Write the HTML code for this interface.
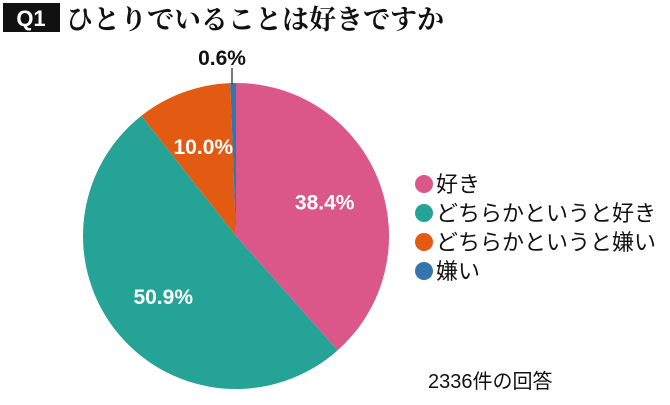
<!DOCTYPE html>
<html><head><meta charset="utf-8"><style>
body{margin:0;background:#fff;width:670px;height:400px;overflow:hidden;font-family:"Liberation Sans","Noto Sans CJK JP",sans-serif}
</style></head><body>
<svg width="670" height="400">
<rect x="3" y="3" width="57" height="29" fill="#111"/>
<text x="31" y="26" text-anchor="middle" fill="#fff" font-size="22" font-weight="bold">Q1</text>
<text x="66" y="29" font-size="27" font-family="'Liberation Serif','Noto Serif CJK SC',serif" font-weight="bold" fill="#111">ひとりでいることは好きですか</text>
<g id="slices"></g>
<g id="labels"></g>
<line x1="232" y1="68" x2="232" y2="84" stroke="#222" stroke-width="1.2"/>
<g id="legend"></g>
<text x="428" y="388" font-size="20" fill="#111">2336件の回答</text>
</svg>
<script>
const categories=["好き","どちらかというと好き","どちらかというと嫌い","嫌い"];
const values=[38.4,50.9,10.0,0.6];
const colors=["#db5689","#26a397","#e35a13","#3574ad"];
const cx=236,cy=236,r=153,NS="http://www.w3.org/2000/svg";
const total=values.reduce((a,b)=>a+b,0);
const sl=document.getElementById('slices'),lb=document.getElementById('labels'),lg=document.getElementById('legend');
let a0=0;
function pt(a,rr){return [cx+rr*Math.sin(a),cy-rr*Math.cos(a)];}
values.forEach((v,i)=>{
 const a1=a0+v/total*2*Math.PI;
 const p0=pt(a0,r),p1=pt(a1,r);
 const p=document.createElementNS(NS,'path');
 p.setAttribute('d',`M${cx},${cy}L${p0[0]},${p0[1]}A${r},${r} 0 ${a1-a0>Math.PI?1:0} 1 ${p1[0]},${p1[1]}Z`);
 p.setAttribute('fill',colors[i]);
 
 
 sl.appendChild(p);
 const t=document.createElementNS(NS,'text');
 const mid=(a0+a1)/2;
 let q;
 if(v<3){q=[cx-14,58];t.setAttribute('fill','#111');}
 else{q=pt(mid,r*0.62);t.setAttribute('fill','#fff');}
 t.setAttribute('x',q[0]);t.setAttribute('y',q[1]+7);
 t.setAttribute('text-anchor','middle');t.setAttribute('font-size','21');t.setAttribute('font-weight','bold');
 t.textContent=v.toFixed(1)+'%';
 
 
 lb.appendChild(t);
 a0=a1;
});
categories.forEach((c,i)=>{
 const y=184+i*29;
 const ci=document.createElementNS(NS,'circle');
 ci.setAttribute('cx',424);ci.setAttribute('cy',y);ci.setAttribute('r',9);ci.setAttribute('fill',colors[i]);
 
 
 lg.appendChild(ci);
 const t=document.createElementNS(NS,'text');
 t.setAttribute('x',436);t.setAttribute('y',y+8);t.setAttribute('font-size','22');t.setAttribute('fill','#111');
 t.textContent=c;
 
 
 lg.appendChild(t);
});
</script>
</body></html>
